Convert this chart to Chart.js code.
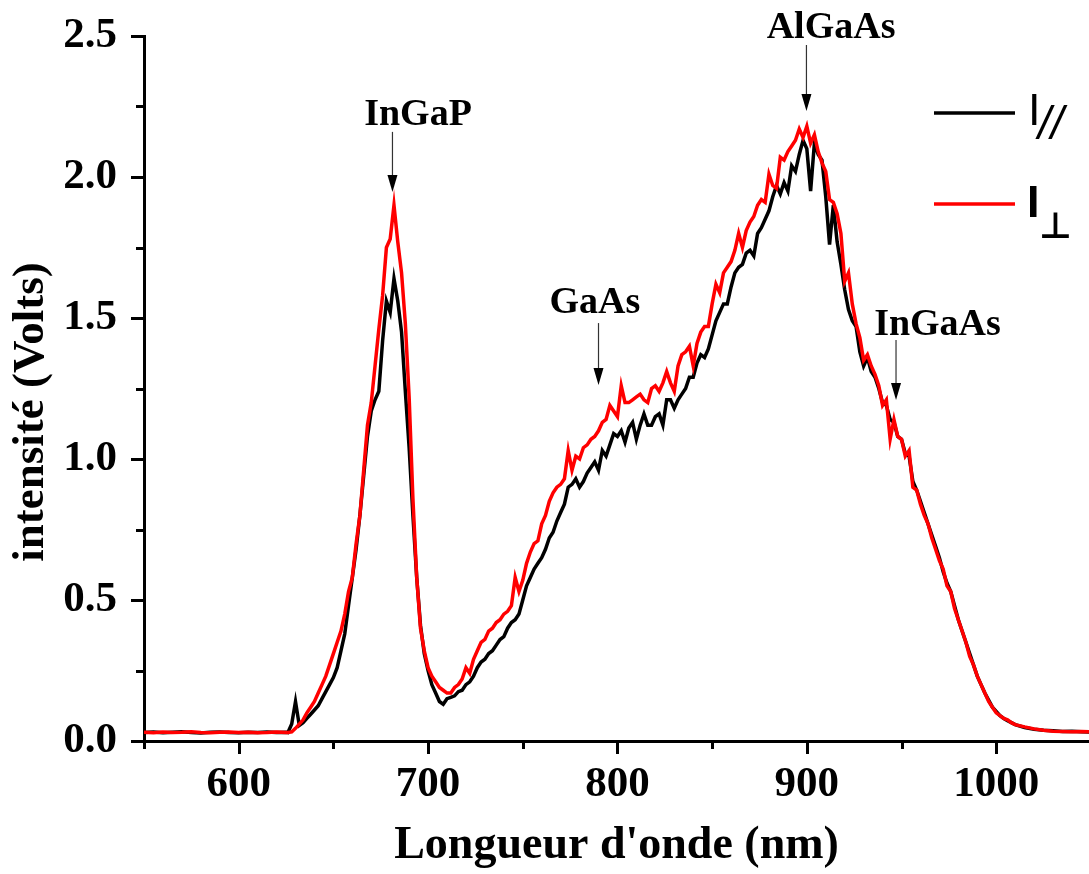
<!DOCTYPE html>
<html lang="fr">
<head>
<meta charset="utf-8">
<title>Intensité en fonction de la longueur d'onde</title>
<script src="https://cdn.jsdelivr.net/npm/chart.js@4.4.1/dist/chart.umd.min.js"></script>
<style>
  html, body { margin: 0; padding: 0; background: #fff; }
  #wrap { width: 1089px; height: 874px; position: relative; }
</style>
</head>
<body>
<div id="wrap"><canvas id="spectre"></canvas></div>
<script>
// Longueurs d'onde (nm)
const lambda = [
  550, 555, 560, 565, 570, 575, 580, 585, 590, 595, 600, 605, 610, 615, 620, 625,
  626, 628, 630, 632, 634, 636, 638, 640, 642, 644,
  646, 648, 650, 652, 654, 656, 658, 660, 662, 664,
  666, 668, 670, 672, 674, 676, 678, 680, 682, 684,
  686, 688, 690, 692, 694, 696, 698, 700, 702, 704,
  706, 708, 710, 712, 714, 716, 718, 720, 722, 724,
  726, 728, 730, 732, 734, 736, 738, 740, 742, 744,
  746, 748, 750, 752, 754, 756, 758, 760, 762, 764,
  766, 768, 770, 772, 774, 776, 778, 780, 782, 784,
  786, 788, 790, 792, 794, 796, 798, 800, 802, 804,
  806, 808, 810, 812, 814, 816, 818, 820, 822, 824,
  826, 828, 830, 832, 834, 836, 838, 840, 842, 844,
  846, 848, 850, 852, 854, 856, 858, 860, 862, 864,
  866, 868, 870, 872, 874, 876, 878, 880, 882, 884,
  886, 888, 890, 892, 894, 896, 898, 900, 902, 904,
  906, 908, 910, 912, 914, 916, 918, 920, 922, 924,
  926, 928, 930, 932, 934, 936, 938, 940, 942, 944,
  946, 948, 950, 952, 954, 956, 958, 960, 962, 964,
  966, 968, 970, 972, 974, 976, 978, 980, 982, 984,
  986, 988, 990, 992, 994, 996, 998, 1000, 1002, 1004,
  1006, 1008, 1010,
  1015, 1020, 1025, 1030, 1035, 1040, 1045, 1050
]

// I// (Volts)
const iParallele = [
  0.030, 0.032, 0.029, 0.031, 0.033, 0.030, 0.028, 0.031, 0.032, 0.030, 0.029, 0.031, 0.030, 0.032, 0.030, 0.031,
  0.030, 0.060, 0.140, 0.055, 0.065, 0.080, 0.095, 0.110, 0.125, 0.150,
  0.175, 0.200, 0.225, 0.26, 0.32, 0.38, 0.48, 0.58, 0.68, 0.80,
  0.94, 1.08, 1.17, 1.21, 1.24, 1.42, 1.56, 1.52, 1.64, 1.56,
  1.45, 1.24, 1.04, 0.80, 0.58, 0.41, 0.31, 0.25, 0.20, 0.17,
  0.14, 0.13, 0.15, 0.155, 0.16, 0.175, 0.18, 0.20, 0.21, 0.23,
  0.26, 0.28, 0.29, 0.31, 0.32, 0.34, 0.36, 0.37, 0.40, 0.42,
  0.43, 0.45, 0.50, 0.55, 0.58, 0.61, 0.63, 0.65, 0.68, 0.72,
  0.74, 0.78, 0.81, 0.84, 0.90, 0.91, 0.93, 0.90, 0.92, 0.95,
  0.97, 0.99, 0.96, 1.03, 1.01, 1.05, 1.09, 1.08, 1.10, 1.06,
  1.11, 1.13, 1.07, 1.12, 1.16, 1.12, 1.12, 1.15, 1.16, 1.12,
  1.21, 1.21, 1.18, 1.21, 1.23, 1.25, 1.29, 1.29, 1.34, 1.37,
  1.36, 1.39, 1.44, 1.49, 1.52, 1.55, 1.55, 1.61, 1.66, 1.68,
  1.69, 1.73, 1.74, 1.72, 1.80, 1.82, 1.85, 1.88, 1.93, 1.97,
  1.94, 1.98, 1.95, 2.04, 2.02, 2.08, 2.13, 2.10, 1.95, 2.12,
  2.08, 2.06, 1.93, 1.76, 1.90, 1.77, 1.69, 1.60, 1.53, 1.49,
  1.47, 1.38, 1.33, 1.36, 1.31, 1.29, 1.25, 1.20, 1.19, 1.14,
  1.13, 1.08, 1.07, 1.02, 1.01, 0.92, 0.89, 0.85, 0.81, 0.77,
  0.73, 0.69, 0.65, 0.60, 0.56, 0.53, 0.48, 0.43, 0.39, 0.35,
  0.31, 0.27, 0.23, 0.20, 0.17, 0.145, 0.12, 0.105, 0.09, 0.08,
  0.072, 0.065, 0.058,
  0.048, 0.042, 0.038, 0.036, 0.034, 0.035, 0.033, 0.032
]

// I⊥ (Volts)
const iPerpendiculaire = [
  0.031, 0.029, 0.032, 0.030, 0.031, 0.033, 0.030, 0.029, 0.031, 0.032, 0.030, 0.031, 0.029, 0.030, 0.032, 0.030,
  0.030, 0.032, 0.045, 0.060, 0.075, 0.10, 0.12, 0.14, 0.17, 0.20,
  0.23, 0.27, 0.31, 0.35, 0.39, 0.45, 0.53, 0.58, 0.70, 0.80,
  0.96, 1.12, 1.20, 1.33, 1.46, 1.58, 1.75, 1.78, 1.90, 1.77,
  1.66, 1.48, 1.22, 0.86, 0.58, 0.40, 0.32, 0.26, 0.23, 0.21,
  0.19, 0.18, 0.17, 0.17, 0.19, 0.20, 0.22, 0.26, 0.24, 0.29,
  0.32, 0.35, 0.36, 0.39, 0.40, 0.42, 0.43, 0.45, 0.46, 0.48,
  0.58, 0.53, 0.57, 0.63, 0.67, 0.70, 0.71, 0.77, 0.80, 0.85,
  0.88, 0.90, 0.91, 0.93, 1.03, 0.96, 1.01, 1.00, 1.04, 1.05,
  1.07, 1.08, 1.10, 1.13, 1.14, 1.19, 1.17, 1.15, 1.26, 1.20,
  1.20, 1.21, 1.22, 1.23, 1.21, 1.20, 1.25, 1.26, 1.24, 1.27,
  1.31, 1.27, 1.24, 1.33, 1.37, 1.38, 1.40, 1.33, 1.41, 1.45,
  1.47, 1.47, 1.55, 1.62, 1.59, 1.66, 1.68, 1.70, 1.74, 1.80,
  1.75, 1.81, 1.84, 1.86, 1.90, 1.92, 1.91, 2.01, 1.97, 1.96,
  2.07, 2.06, 2.09, 2.11, 2.13, 2.17, 2.14, 2.18, 2.12, 2.15,
  2.09, 2.05, 2.02, 1.92, 1.91, 1.87, 1.80, 1.63, 1.66, 1.55,
  1.48, 1.43, 1.35, 1.37, 1.33, 1.30, 1.26, 1.19, 1.21, 1.07,
  1.14, 1.08, 1.07, 1.01, 1.03, 0.90, 0.89, 0.84, 0.80, 0.77,
  0.72, 0.68, 0.64, 0.61, 0.55, 0.53, 0.47, 0.43, 0.39, 0.35,
  0.30, 0.27, 0.23, 0.20, 0.17, 0.14, 0.12, 0.10, 0.09, 0.08,
  0.075, 0.065, 0.058,
  0.050, 0.043, 0.038, 0.035, 0.034, 0.033, 0.034, 0.032
]

// graduations
const xMajor = [600, 700, 800, 900, 1000]
const xMinor = [550, 650, 750, 850, 950]
const yMajor = [0.0, 0.5, 1.0, 1.5, 2.0, 2.5]
const yMinor = [0.25, 0.75, 1.25, 1.75, 2.25]

// bandes d'émission repérées par une flèche (nm, V)
const bandes = [
  { nom: "InGaP",  x: 681.2, texteX: 694.7, texteY: 2.184, haut: 2.160, pointe: 1.947 },
  { nom: "AlGaAs", x: 899.8, texteX: 912.8, texteY: 2.493, haut: 2.468, pointe: 2.234 },
  { nom: "GaAs",   x: 790.0, texteX: 788.1, texteY: 1.518, haut: 1.482, pointe: 1.262 },
  { nom: "InGaAs", x: 947.1, texteX: 969.0, texteY: 1.440, haut: 1.422, pointe: 1.209 },
]

const SERIF = "'Liberation Serif', 'Times New Roman', serif"
const SANS = "'Liberation Sans', Arial, sans-serif"

function points(values) {
  return lambda.map((x, i) => ({ x: x, y: values[i] }))
}

// petites et grandes graduations tracées vers l'extérieur
const graduations = {
  id: "graduations",
  afterDraw(chart) {
    const { ctx, chartArea } = chart
    const xs = chart.scales.x
    const ys = chart.scales.y
    ctx.save()
    ctx.strokeStyle = "#000"
    ctx.lineWidth = 3
    ctx.beginPath()
    xs.ticks.forEach((t) => {
      const px = Math.round(xs.getPixelForValue(t.value)) + 0.5
      const len = xMajor.includes(t.value) ? 13 : 8
      ctx.moveTo(px, chartArea.bottom)
      ctx.lineTo(px, chartArea.bottom + len)
    })
    ys.ticks.forEach((t) => {
      const py = Math.round(ys.getPixelForValue(t.value)) + 0.5
      const len = yMajor.includes(t.value) ? 13 : 8
      ctx.moveTo(chartArea.left, py)
      ctx.lineTo(chartArea.left - len, py)
    })
    ctx.stroke()
    ctx.restore()
  },
}

// titre de l'axe vertical, un peu sous le milieu de l'axe
const titreY = {
  id: "titreY",
  afterDraw(chart) {
    const { ctx } = chart
    ctx.save()
    ctx.translate(31, 412)
    ctx.rotate(-Math.PI / 2)
    ctx.fillStyle = "#000"
    ctx.font = "bold 45px " + SERIF
    ctx.textAlign = "center"
    ctx.textBaseline = "middle"
    ctx.fillText("intensité (Volts)", 0, 0)
    ctx.restore()
  },
}

// noms des bandes avec leur flèche
const fleches = {
  id: "fleches",
  afterDatasetsDraw(chart) {
    const { ctx } = chart
    const xs = chart.scales.x
    const ys = chart.scales.y
    ctx.save()
    bandes.forEach((b) => {
      const px = xs.getPixelForValue(b.x)
      const top = ys.getPixelForValue(b.haut)
      const tip = ys.getPixelForValue(b.pointe)
      ctx.strokeStyle = "#333"
      ctx.lineWidth = 1.2
      ctx.beginPath()
      ctx.moveTo(px, top)
      ctx.lineTo(px, tip - 14)
      ctx.stroke()
      ctx.fillStyle = "#000"
      ctx.beginPath()
      ctx.moveTo(px - 5, tip - 17)
      ctx.lineTo(px + 5, tip - 17)
      ctx.lineTo(px, tip)
      ctx.closePath()
      ctx.fill()

      ctx.font = "bold 38px " + SERIF
      ctx.textAlign = "center"
      ctx.textBaseline = "alphabetic"
      ctx.fillText(b.nom, xs.getPixelForValue(b.texteX), ys.getPixelForValue(b.texteY))
    })
    ctx.restore()
  },
}

// légende : I// et I⊥
const legende = {
  id: "legende",
  afterDraw(chart) {
    const { ctx } = chart
    const sets = chart.data.datasets
    const lignes = [
      { y: 113, ds: sets[0] },
      { y: 204, ds: sets[1] },
    ]
    ctx.save()
    lignes.forEach((l) => {
      ctx.strokeStyle = l.ds.borderColor
      ctx.lineWidth = 3.5
      ctx.beginPath()
      ctx.moveTo(934, l.y)
      ctx.lineTo(1015, l.y)
      ctx.stroke()
    })
    ctx.fillStyle = "#000"
    ctx.textAlign = "left"
    ctx.textBaseline = "alphabetic"
    ctx.font = "45px " + SANS
    ctx.fillText("I", 1028, 125)
    ctx.font = "italic 46px " + SANS
    ctx.fillText("//", 1038, 139)
    ctx.font = "bold 45px " + SANS
    ctx.fillText("I", 1027, 217)
    ctx.font = "bold 36px 'DejaVu Sans', sans-serif"
    ctx.fillText("\u22A5", 1039, 238)
    ctx.restore()
  },
}

function axisTicks(minor, major) {
  return (scale) => {
    scale.ticks = minor.concat(major).sort((a, b) => a - b).map((v) => ({ value: v }))
  }
}

document.addEventListener("DOMContentLoaded", () => {
  const ctx = document.getElementById("spectre").getContext("2d")
  new Chart(ctx, {
    type: "line",
    data: {
      datasets: [
        {
          label: "I//",
          data: points(iParallele),
          borderColor: "#000000",
          borderWidth: 3.5,
          pointRadius: 0,
          tension: 0,
          order: 2,
        },
        {
          label: "I\u22A5",
          data: points(iPerpendiculaire),
          borderColor: "#ff0000",
          borderWidth: 3.5,
          pointRadius: 0,
          tension: 0,
          order: 1,
        },
      ],
    },
    options: {
      responsive: true,
      maintainAspectRatio: false,
      animation: false,
      layout: { padding: { top: 36, right: 0, bottom: 0, left: 0 } },
      plugins: {
        legend: { display: false },
        tooltip: { enabled: false },
      },
      scales: {
        x: {
          type: "linear",
          min: 550,
          max: 1049,
          afterBuildTicks: axisTicks(xMinor, xMajor),
          afterFit: (s) => {
            s.height = 133
            s.paddingLeft = 0
            s.paddingRight = 0
          },
          grid: { display: false, drawTicks: false },
          border: { display: true, color: "#000", width: 3 },
          ticks: {
            autoSkip: false,
            maxRotation: 0,
            padding: 18,
            color: "#000",
            font: { family: SERIF, size: 43, weight: "bold" },
            callback: (v) => (xMajor.includes(v) ? String(v) : ""),
          },
          title: {
            display: true,
            text: "Longueur d'onde (nm)",
            color: "#000",
            font: { family: SERIF, size: 46, weight: "bold" },
            padding: { top: 0, bottom: 0 },
          },
        },
        y: {
          min: 0,
          max: 2.5,
          afterBuildTicks: axisTicks(yMinor, yMajor),
          afterFit: (s) => {
            s.width = 144
            s.paddingTop = 0
            s.paddingBottom = 0
          },
          grid: { display: false, drawTicks: false },
          border: { display: true, color: "#000", width: 3 },
          ticks: {
            autoSkip: false,
            padding: 27,
            color: "#000",
            font: { family: SERIF, size: 43, weight: "bold" },
            callback: (v) => (yMajor.includes(v) ? v.toFixed(1) : ""),
          },
        },
      },
    },
    plugins: [graduations, titreY, fleches, legende],
  })
})
</script>
</body>
</html>
